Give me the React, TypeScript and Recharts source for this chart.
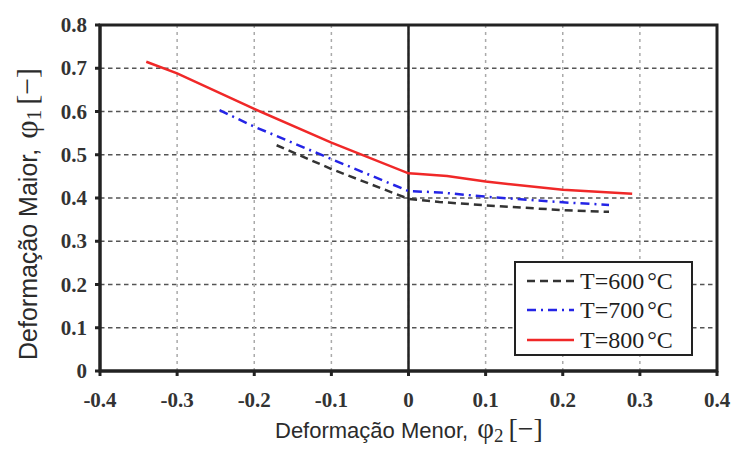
import { LineChart, Line, XAxis, YAxis, CartesianGrid, ReferenceLine, Legend } from 'recharts';

const X_TICKS = [-0.4, -0.3, -0.2, -0.1, 0, 0.1, 0.2, 0.3, 0.4];
const Y_TICKS = [0, 0.1, 0.2, 0.3, 0.4, 0.5, 0.6, 0.7, 0.8];

// T=600°C
const x600 = [-0.171, -0.1, 0, 0.04, 0.1, 0.2, 0.26];
const y600 = [0.522, 0.467, 0.398, 0.391, 0.383, 0.372, 0.368];
// T=700°C
const x700 = [-0.245, -0.2, -0.1, 0, 0.04, 0.1, 0.2, 0.26];
const y700 = [0.603, 0.565, 0.49, 0.416, 0.413, 0.403, 0.39, 0.384];
// T=800°C
const x800 = [-0.34, -0.3, -0.2, -0.1, 0, 0.01, 0.05, 0.1, 0.2, 0.29];
const y800 = [0.715, 0.688, 0.606, 0.528, 0.457, 0.456, 0.451, 0.438, 0.419, 0.41];

const LABELS = ['T=600°C', 'T=700°C', 'T=800°C'];

const toPoints = (xs: number[], ys: number[]) => xs.map((x, i) => ({ x, y: ys[i] }));

const SERIES = [
  { name: LABELS[0], data: toPoints(x600, y600), color: '#333333', dash: '8 5' },
  { name: LABELS[1], data: toPoints(x700, y700), color: '#2424e6', dash: '9 5 2 5' },
  { name: LABELS[2], data: toPoints(x800, y800), color: '#f02828', dash: undefined },
];

const W = 736;
const H = 452;
const MARGIN = { top: 25, right: 19, bottom: 41, left: 40 };
const Y_AXIS_W = 60;
const X_AXIS_H = 40;

const INK = '#222';
const SERIF = 'Liberation Serif, DejaVu Serif, serif';
const SANS = 'Liberation Sans, Arial, sans-serif';

function XTick(props: any) {
  const { x, y, payload } = props;
  return (
    <text x={x} y={y} dy={15} textAnchor="middle" fontFamily={SERIF} fontWeight="bold" fontSize={21} fill="#333">
      {String(payload.value)}
    </text>
  );
}

function YTick(props: any) {
  const { x, y, payload } = props;
  return (
    <text x={x} y={y} dy={7} textAnchor="end" fontFamily={SERIF} fontWeight="bold" fontSize={21} fill="#333">
      {String(payload.value)}
    </text>
  );
}

function XTitle({ viewBox }: any) {
  const x = viewBox.x + 175;
  const y = viewBox.y + 67;
  return (
    <text x={x} y={y} textAnchor="start" fill="#2b2b2b" fontFamily={SANS} fontSize={22}>
      <tspan>Deformação Menor,</tspan>
      <tspan fontFamily={SERIF} fontSize={29} dx={9}>φ</tspan>
      <tspan fontFamily={SERIF} fontSize={19} dy={4}>2</tspan>
      <tspan fontFamily={SERIF} fontSize={28} dy={-4} dx={5}>[−]</tspan>
    </text>
  );
}

// y-axis title; also draws the plot frame from the axis box (top/height) and chart margins
function YTitle({ viewBox }: any) {
  const x = viewBox.x - 3;
  const y = 360;
  const left = viewBox.x + viewBox.width;
  const right = W - MARGIN.right;
  return (
    <g>
      <rect x={left} y={viewBox.y} width={right - left} height={viewBox.height}
        fill="none" stroke={INK} strokeWidth={3} />
      <text x={x} y={y} textAnchor="start" transform={`rotate(-90, ${x}, ${y})`}
        fill="#2b2b2b" fontFamily={SANS} fontSize={25}>
        <tspan>Deformação Maior,</tspan>
        <tspan fontFamily={SERIF} fontSize={32} dx={10}>φ</tspan>
        <tspan fontFamily={SERIF} fontSize={21} dy={4}>1</tspan>
        <tspan fontFamily={SERIF} fontSize={30} dy={-4} dx={5}>[−]</tspan>
      </text>
    </g>
  );
}

function LegendBox() {
  return (
    <div style={{
      width: 175, height: 88, border: `2px solid ${INK}`, background: '#fff',
      padding: '3px 0 0 0', boxSizing: 'content-box',
    }}>
      {SERIES.map((s) => (
        <div key={s.name} style={{ display: 'flex', alignItems: 'center', height: 29.5 }}>
          <svg width={60} height={10} style={{ marginLeft: 9 }}>
            <line x1={2} y1={5} x2={49} y2={5} stroke={s.color} strokeWidth={2.5} strokeDasharray={s.dash} />
          </svg>
          <span style={{ fontFamily: SERIF, fontSize: 24, color: '#1e1e1e', marginLeft: -5, lineHeight: '24px' }}>
            {s.name.replace('°C', '')}
            <span style={{ marginLeft: 3 }}>°C</span>
          </span>
        </div>
      ))}
    </div>
  );
}

export default function App() {
  return (
    <div style={{ position: 'absolute', left: 0, top: 0, width: W, height: H, background: '#fff' }}>
      <LineChart width={W} height={H} margin={MARGIN}>
        <CartesianGrid vertical={false} stroke="#555" strokeWidth={1.6} strokeDasharray="4.5 3.5" />
        <CartesianGrid horizontal={false} stroke="#aaa" strokeWidth={1.5} strokeDasharray="3 4" />
        <XAxis dataKey="x" type="number" domain={[-0.4, 0.4]} ticks={X_TICKS} interval={0}
          stroke={INK} strokeWidth={3} tickSize={5} tickMargin={16}
          tick={XTick} height={X_AXIS_H} label={XTitle} />
        <YAxis type="number" domain={[0, 0.8]} ticks={Y_TICKS} interval={0}
          stroke={INK} strokeWidth={3} tickSize={5} tickMargin={8}
          tick={YTick} width={Y_AXIS_W} label={YTitle} />
        <ReferenceLine x={0} stroke={INK} strokeWidth={2.5} />
        {SERIES.map((s) => (
          <Line key={s.name} data={s.data} dataKey="y" name={s.name} type="linear"
            stroke={s.color} strokeWidth={2.5} strokeDasharray={s.dash}
            dot={false} activeDot={false} isAnimationActive={false} />
        ))}
        <Legend layout="vertical" align="center" verticalAlign="middle"
          wrapperStyle={{ left: 514, top: 261, width: 'auto' }} content={<LegendBox />} />
      </LineChart>
    </div>
  );
}
